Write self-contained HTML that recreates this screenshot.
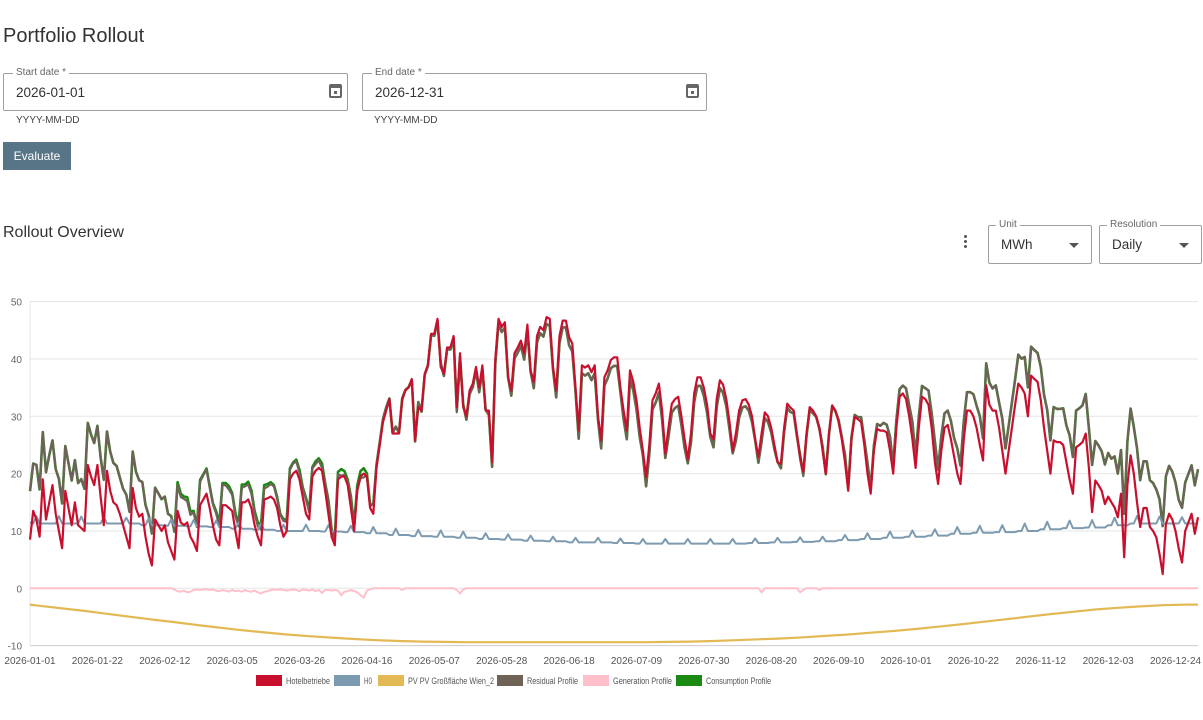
<!DOCTYPE html>
<html><head><meta charset="utf-8"><style>
body{margin:0;width:1203px;height:720px;background:#fff;font-family:"Liberation Sans","DejaVu Sans",sans-serif;color:#333;position:relative;overflow:hidden}
.abs{position:absolute}
.field{position:absolute;border:1px solid #a0a0a0;border-radius:2px;box-sizing:border-box}
.flabel{position:absolute;top:-7px;left:9px;background:#fff;padding:0 3px;font-size:10px;color:#666}
.fval{position:absolute;left:12px;top:11px;font-size:13.5px;color:#333}
.cal{position:absolute;top:10px;width:13px;height:14px;border:2px solid #666;border-top-width:4px;border-radius:2px;box-sizing:border-box}
.cal:after{content:"";position:absolute;left:3px;top:3px;width:3px;height:3px;background:#666}
.help{position:absolute;font-size:10px;color:#444}
.caret{position:absolute;right:12px;top:17px;width:0;height:0;border-left:5px solid transparent;border-right:5px solid transparent;border-top:5px solid #555}
</style></head><body>
<div class="abs" style="left:3px;top:25px;font-size:20px;color:#333">Portfolio Rollout</div>

<div class="field" style="left:3px;top:73px;width:345px;height:38px">
 <span class="flabel">Start date *</span>
 <span class="fval">2026-01-01</span>
 <span class="cal" style="left:325px"></span>
</div>
<div class="help" style="left:16px;top:115px">YYYY-MM-DD</div>

<div class="field" style="left:362px;top:73px;width:345px;height:38px">
 <span class="flabel">End date *</span>
 <span class="fval">2026-12-31</span>
 <span class="cal" style="left:323px"></span>
</div>
<div class="help" style="left:374px;top:115px">YYYY-MM-DD</div>

<div class="abs" style="left:3px;top:142px;width:68px;height:28px;background:#587587;color:#fff;font-size:12px;line-height:28px;text-align:center">Evaluate</div>

<div class="abs" style="left:3px;top:224px;font-size:16px;color:#333">Rollout Overview</div>

<div class="abs" style="left:963px;top:235px;width:6px;height:16px">
 <div style="position:absolute;left:1px;top:0;width:3px;height:3px;border-radius:50%;background:#555"></div>
 <div style="position:absolute;left:1px;top:5px;width:3px;height:3px;border-radius:50%;background:#555"></div>
 <div style="position:absolute;left:1px;top:10px;width:3px;height:3px;border-radius:50%;background:#555"></div>
</div>
<div class="field" style="left:988px;top:225px;width:104px;height:39px">
 <span class="flabel" style="left:7px">Unit</span>
 <span class="fval" style="left:12px;top:11px">MWh</span><span class="caret"></span>
</div>
<div class="field" style="left:1099px;top:225px;width:103px;height:39px">
 <span class="flabel" style="left:7px">Resolution</span>
 <span class="fval" style="left:12px;top:11px">Daily</span><span class="caret"></span>
</div>

<svg id="chart" class="abs" style="left:0;top:0" width="1203" height="720" xmlns="http://www.w3.org/2000/svg"></svg>

<script>
const xTickLabels=["2026-01-01","2026-01-22","2026-02-12","2026-03-05","2026-03-26","2026-04-16","2026-05-07","2026-05-28","2026-06-18","2026-07-09","2026-07-30","2026-08-20","2026-09-10","2026-10-01","2026-10-22","2026-11-12","2026-12-03","2026-12-24"];
const yTicks=[-10,0,10,20,30,40,50];
const hotel=[8.5,13.5,12,9,19,12,15,18,13,10,
7,17,14,11,15,11,10.5,10,21.5,19.5,
18,21.5,16,11,20.5,17,15,14.5,13,11,
9,7,17.5,14,12.5,13,9,6,4,12,
11,10,11,8,6.5,5,13.5,11.5,11,11.5,
9,8,6.5,14.5,15.5,16.5,14,11,8.5,7.5,
14.5,14.5,14,13.5,10,7,15,15,15.5,14,
11,9,7.5,15.5,15.7,16,15.5,14,11,9,
10,19,20,20.5,19,16,13,12,19.5,20.5,
21,20.5,17,13,9,7.5,19,19.5,19.5,18,
14,10,17,19.5,20,19.5,14,13,21,25,
29,31,33,27,27,27,33,34.5,35,36.5,
25.8,31.6,31,37.4,39,44.4,44.4,47,38.6,37.4,
42,42,44,31.6,41,31.6,30,34.5,35.7,38.6,
35,38.9,31,31,22,40,47,45.6,46.4,36.8,
34.5,41,42,43.2,41,46,38,36,44,45.6,
45,47.3,47,38.6,34.5,44,46.7,46.7,43.8,42.7,
35,27.5,38.9,38.5,38.9,37.7,38.9,30,25.8,36.8,
38,39.8,40.3,40.3,35,31,27.5,38,36,32.8,
28,24,19.4,25,32.8,34,35.7,31,23.5,28,
32.2,33,33.4,30,26,22.5,27,34,36.8,36.8,
35,32,27,26,33,36.3,35.5,33,29,24,
27,31,32.8,33,32,30,26,22.9,27,30.7,
30,28,25,22,21.7,28,32.2,31.5,31,27,
22.9,20.3,27,31.6,31,30,28,24,20,27,
31.9,31,29,26,22,17,26,29.9,29.5,29,
25,20,16.5,24,27.8,27.5,27.5,27.2,24,20,
28,33.4,34,33,30,26,21,28,33.4,33,
32,28,22,18.2,24,28,28.5,26,23,20,
18.2,26,31,31,30,28,25,22.3,35.4,32,
31,31,28,24,20,24,28,32,35.7,35,
34,30,37.1,36.5,36,32.8,28,24,20,25.8,
25.5,25.5,25,22,19,16.5,24.6,25,25.5,27,
21,13.3,18.8,18,17,14.7,16,15,14.1,12.4,
16.5,5.4,18,23.2,20,15,10.7,14,14,10.7,
10,8.9,6,2.5,11.2,13,12,10,7,4.5,
10,11.5,13,9.5,12.4];
const h0=[11.5,11.3,12.6,11.3,11.3,11.3,11.3,
11.3,11.3,12.6,11.3,11.3,11.3,11.3,
11.3,11.3,12.5,11.3,11.3,11.3,11.3,
11.3,11.3,12.4,11.3,11.3,11.3,11.3,
11.3,11.3,12.3,11.3,11.3,11.3,11.3,
11.0,11.0,12.2,11.0,11.0,11.0,11.0,
10.9,10.9,12.0,10.9,10.9,10.9,10.9,
10.8,10.8,11.9,10.8,10.8,10.8,10.8,
10.7,10.7,11.8,10.7,10.7,10.7,10.7,
10.4,10.4,11.5,10.4,10.4,10.4,10.4,
10.2,10.2,11.3,10.2,10.2,10.2,10.2,
10.0,10.0,11.1,10.0,10.0,10.0,10.0,
10.0,10.0,11.1,10.0,10.0,10.0,10.0,
9.9,9.9,11.0,9.9,9.9,9.9,9.9,
9.8,9.8,10.9,9.8,9.8,9.8,9.8,
9.6,9.6,10.7,9.6,9.6,9.6,9.6,
9.3,9.3,10.4,9.3,9.3,9.3,9.3,
9.1,9.1,10.2,9.1,9.1,9.1,9.1,
9.0,9.0,10.1,9.0,9.0,9.0,9.0,
8.8,8.8,9.9,8.8,8.8,8.8,8.8,
8.6,8.6,9.6,8.6,8.6,8.6,8.6,
8.5,8.5,9.4,8.5,8.5,8.5,8.5,
8.3,8.3,9.2,8.3,8.3,8.3,8.3,
8.2,8.2,9.0,8.2,8.2,8.2,8.2,
8.0,8.0,8.8,8.0,8.0,8.0,8.0,
8.0,8.0,8.8,8.0,8.0,8.0,8.0,
7.9,7.9,8.7,7.9,7.9,7.9,7.9,
7.8,7.8,8.6,7.8,7.8,7.8,7.8,
7.8,7.8,8.6,7.8,7.8,7.8,7.8,
7.8,7.8,8.6,7.8,7.8,7.8,7.8,
7.8,7.8,8.6,7.8,7.8,7.8,7.8,
7.8,7.8,8.6,7.8,7.8,7.8,7.8,
7.9,7.9,8.7,7.9,7.9,7.9,7.9,
8.0,8.0,8.8,8.0,8.0,8.0,8.0,
8.1,8.1,8.9,8.1,8.1,8.1,8.1,
8.2,8.2,9.0,8.2,8.2,8.2,8.2,
8.4,8.4,9.3,8.4,8.4,8.4,8.4,
8.6,8.6,9.6,8.6,8.6,8.6,8.6,
8.8,8.8,9.9,8.8,8.8,8.8,8.8,
9.0,9.0,10.1,9.0,9.0,9.0,9.0,
9.2,9.2,10.3,9.2,9.2,9.2,9.2,
9.5,9.5,10.7,9.5,9.5,9.5,9.5,
9.7,9.7,10.9,9.7,9.7,9.7,9.7,
9.8,9.8,11.0,9.8,9.8,9.8,9.8,
10.0,10.0,11.3,10.0,10.0,10.0,10.0,
10.3,10.3,11.6,10.3,10.3,10.3,10.3,
10.5,10.5,11.8,10.5,10.5,10.5,10.5,
10.6,10.6,11.9,10.6,10.6,10.6,10.6,
11.0,11.0,12.3,11.0,11.0,11.0,11.0,
11.3,11.3,12.6,11.3,11.3,11.3,11.3,
11.3,11.3,12.5,11.3,11.3,11.3,11.3,
11.3,11.3,12.4,11.3,11.3,11.3,11.3,
11.2];
const genEarly=[0,0,0,0,0,0,0,0,0,0, 0,0,0,0,0,0,0,0,0,0, 0,0,0,0,0,0,0,0,0,0, 0,0,0,0,0,0,0,0,0,0,
0,0,0,0,0,-0.2,-0.5,-0.6,-0.4,-0.7,
-0.6,-0.3,-0.2,-0.3,-0.2,-0.2,-0.3,-0.2,-0.4,-0.5,
-0.3,-0.4,-0.6,-0.3,-0.5,-0.4,-0.6,-0.3,-0.5,-0.6,
-0.4,-0.7,-0.9,-0.6,-0.5,-0.3,-0.2,-0.3,-0.2,-0.3,
-0.4,-0.3,-0.2,-0.3,-0.5,-0.2,-0.3,-0.4,-0.2,-0.5,
-0.3,-0.8,-0.3,-0.3,-0.4,-0.3,-0.4,-1.2,-0.6,-0.5,
-0.3,-0.5,-0.7,-1.2,-1.6,-0.4,-0.2,0,0,0,
0,0,0,0,0,0,-0.3,0,0,0, 0,0,0,0,0,0,0,0,0,0, 0,0,0,-0.3,-0.9,-0.2,0,0,0,0];
const genDipDays=[228,240,241,246];
const genDipValues=[-0.7,-0.7,-0.3,-0.3];
const pvWeekly=[-3.05,-3.5,-3.95,-4.45,-4.95,-5.45,-5.9,-6.4,-6.85,-7.3,-7.7,-8.05,-8.35,-8.6,-8.85,-9.05,-9.2,-9.3,-9.35,-9.4,-9.4,-9.4,-9.4,-9.4,-9.4,-9.4,-9.4,-9.4,-9.35,-9.3,-9.2,-9.05,-8.9,-8.75,-8.55,-8.3,-8.05,-7.75,-7.45,-7.1,-6.7,-6.3,-5.85,-5.4,-4.95,-4.5,-4.1,-3.7,-3.4,-3.15,-2.95,-2.85,-2.85];
const pvFirst=-2.85;

const NS="http://www.w3.org/2000/svg";
const svg=document.getElementById('chart');
const X0=30,X1=1198,Y0=588.3,PX10=57.33;
const N=hotel.length;
function x(d){return X0+(X1-X0)*d/364;}
function y(v){return Y0-v*PX10/10;}
function mk(t,a){const e=document.createElementNS(NS,t);for(const k in a)e.setAttribute(k,a[k]);svg.appendChild(e);return e;}

const gen=[];
for(let i=0;i<N;i++){gen.push(i<genEarly.length?genEarly[i]:0);}
genDipDays.forEach((d,i)=>{gen[d]=genDipValues[i];});

yTicks.forEach(v=>{
  const g=mk('line',{x1:X0,x2:X1,y1:y(v),y2:y(v),stroke:v===-10?'#ccc':'#e6e6e6','stroke-width':1});
  
  
  const t=mk('text',{x:X0-8,y:y(v)+4,'text-anchor':'end','font-size':10,fill:'#666','font-family':'Liberation Sans, sans-serif'});
  t.textContent=v;
  
  
});
const ax=mk('line',{x1:X0,x2:X0,y1:y(50),y2:y(-10),stroke:'#e6e6e6','stroke-width':1});


xTickLabels.forEach((lab,i)=>{
  const t=mk('text',{x:x(i*21),y:664,'text-anchor':'middle','font-size':10,fill:'#555','font-family':'Liberation Sans, sans-serif'});
  t.textContent=lab;
  
  
});

function pathFrom(pts){return pts.map((p,i)=>(i?'L':'M')+p[0].toFixed(1)+' '+p[1].toFixed(1)).join('');}
function daily(arr){return arr.map((v,i)=>[x(i),y(v)]);}
function pvAt(d){return pvWeekly[Math.min(pvWeekly.length-1,Math.floor(d/7))];}
const consumption=hotel.map((v,i)=>v+h0[i]+pvAt(i));
const residual=consumption.map((v,i)=>v+gen[i]);
const pvPts=[[x(0),y(pvFirst)]].concat(pvWeekly.map((v,k)=>[x(Math.min(364,7*k+3)),y(v)]));

let p;
p=mk('path',{d:pathFrom(daily(gen)),fill:'none',stroke:'#ffc0cb','stroke-width':2});


p=mk('path',{d:pathFrom(pvPts),fill:'none',stroke:'#e3b955','stroke-width':2.2,'stroke-linejoin':'round'});


p=mk('path',{d:pathFrom(daily(consumption)),fill:'none',stroke:'#1a8a12','stroke-width':2.6,'stroke-linejoin':'round'});


p=mk('path',{d:pathFrom(daily(residual)),fill:'none',stroke:'#6f6357','stroke-width':2.2,'stroke-linejoin':'round'});


p=mk('path',{d:pathFrom(daily(h0)),fill:'none',stroke:'#7d9bb0','stroke-width':2,'stroke-linejoin':'round'});


p=mk('path',{d:pathFrom(daily(hotel)),fill:'none',stroke:'#c8102e','stroke-width':2.2,'stroke-linejoin':'round'});



const legNames=["Hotelbetriebe","H0","PV PV Großfläche Wien_2","Residual Profile","Generation Profile","Consumption Profile"];
const legColors=["#c8102e","#7d9bb0","#e3b955","#6f6357","#ffc0cb","#1a8a12"];
const legX=[256,334,378,497,583,676];
const legW=[44,8,86,51,59,65];
legNames.forEach((n,i)=>{
  const r=mk('rect',{x:legX[i],y:675,width:26,height:11,fill:legColors[i]});
  
  
  const t=mk('text',{x:legX[i]+30,y:684,'font-size':9,fill:'#555','font-family':'Liberation Sans, sans-serif',textLength:legW[i],lengthAdjust:'spacingAndGlyphs'});
  t.textContent=n;
  
  
});
</script>
</body></html>
